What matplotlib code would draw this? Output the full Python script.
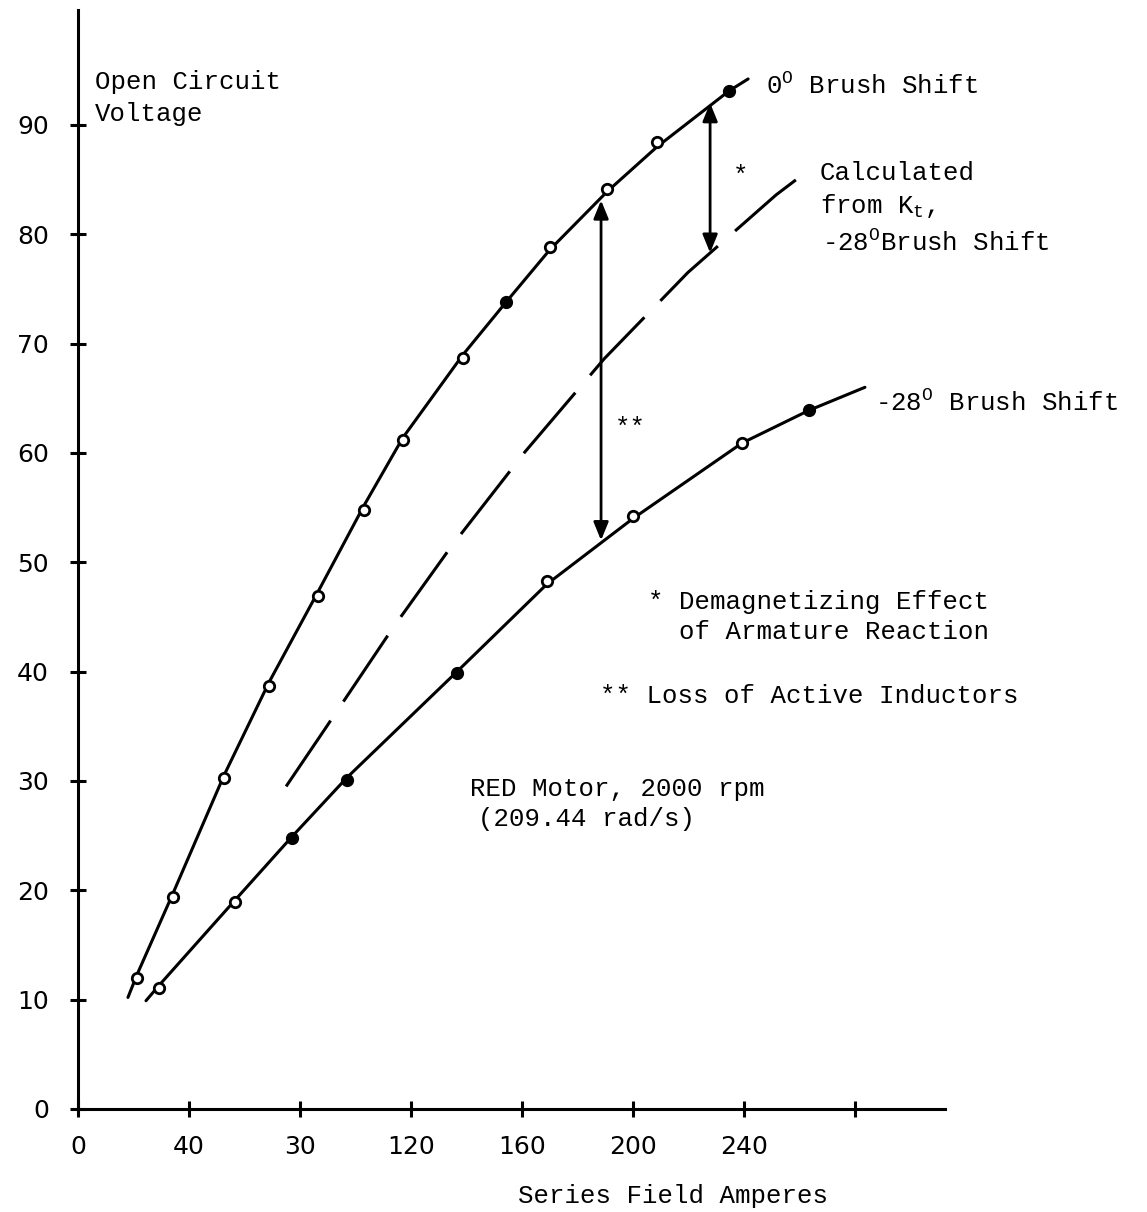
import numpy as np
import matplotlib
matplotlib.use('Agg')
import matplotlib.pyplot as plt

# typewriter look for the annotations
plt.rcParams['mathtext.fontset'] = 'custom'
plt.rcParams['mathtext.rm'] = 'Liberation Mono'
plt.rcParams['mathtext.it'] = 'Liberation Mono'
MONO = 'Liberation Mono'

# 0 deg brush shift: measured points
zero_open_x = [21.3, 34.2, 52.6, 68.8, 86.5, 103.1, 117.1, 138.8, 170.1, 190.7, 208.7]
zero_open_y = [12.0, 19.4, 30.3, 38.7, 46.9, 54.8, 61.2, 68.7, 78.8, 84.1, 88.4]
zero_fill_x = [154.3, 234.6]
zero_fill_y = [73.8, 93.1]
# drawn curve through them
zero_curve_x = [18.0, 21.3, 34.2, 52.6, 68.8, 86.5, 103.1, 117.1, 138.8, 154.3, 170.1, 190.7, 208.7, 234.6, 241.5]
zero_curve_y = [10.2, 12.3, 19.7, 30.5, 39.0, 47.3, 55.2, 61.4, 69.0, 73.8, 78.6, 83.9, 88.0, 93.1, 94.2]

# -28 deg brush shift
neg_open_x = [29.2, 56.6, 169.0, 200.0, 239.3]
neg_open_y = [11.1, 18.9, 48.3, 54.2, 60.9]
neg_fill_x = [77.1, 96.9, 136.6, 263.5]
neg_fill_y = [24.8, 30.1, 39.9, 63.9]
neg_curve_x = [24.5, 29.2, 56.6, 77.1, 96.9, 136.6, 169.0, 200.0, 239.3, 263.5, 283.6]
neg_curve_y = [9.9, 11.3, 19.1, 24.9, 30.3, 40.0, 48.0, 54.0, 60.9, 63.9, 66.0]

# calculated from Kt (dashed)
calc_x = [75.0, 89.4, 113.5, 134.4, 161.1, 189.6, 219.8, 251.6, 262.0]
calc_y = [29.5, 34.9, 44.0, 51.4, 60.1, 68.6, 76.5, 83.6, 85.6]

# arrows: x, top, bottom
star_arrow = (227.8, 92.0, 78.3)
dstar_arrow = (188.5, 83.1, 52.0)

x_ticks = [0, 40, 80, 120, 160, 200, 240, 280]
x_labels = ['0', '40', '30', '120', '160', '200', '240', '']
y_ticks = [0, 10, 20, 30, 40, 50, 60, 70, 80, 90]

fig = plt.figure(figsize=(11.47, 12.12), dpi=100)
ax = fig.add_axes([0.068, 0.085, 0.756, 0.9067])
ax.set_xlim(0, 312.5)
ax.set_ylim(0, 100.5)

for s in ['top', 'right']:
    ax.spines[s].set_visible(False)
for s in ['left', 'bottom']:
    ax.spines[s].set_linewidth(2.2)

ax.set_xticks(x_ticks)
ax.set_xticklabels(x_labels)
ax.set_yticks(y_ticks)
ax.tick_params(direction='inout', length=12, width=2.2, labelsize=18)
ax.tick_params(axis='x', pad=13)
ax.tick_params(axis='y', pad=15)
for lab in ax.get_xticklabels() + ax.get_yticklabels():
    lab.set_family('DejaVu Sans')

lw = 2.2
ax.plot(zero_curve_x, zero_curve_y, color='black', lw=lw, solid_capstyle='round')
ax.plot(neg_curve_x, neg_curve_y, color='black', lw=lw, solid_capstyle='round')
ax.plot(calc_x, calc_y, color='black', lw=lw, linestyle=(0, (26, 7.5)))

ms = 7.5
for xs, ys in [(zero_open_x, zero_open_y), (neg_open_x, neg_open_y)]:
    ax.plot(xs, ys, 'o', ms=ms, mfc='white', mec='black', mew=2, zorder=3)
for xs, ys in [(zero_fill_x, zero_fill_y), (neg_fill_x, neg_fill_y)]:
    ax.plot(xs, ys, 'o', ms=ms, mfc='black', mec='black', mew=2, zorder=3)

arrow_kw = dict(arrowstyle='<|-|>,head_length=1.1,head_width=0.45', color='black', lw=2,
                shrinkA=0, shrinkB=0)
for ax_x, top, bot in [star_arrow, dstar_arrow]:
    ax.annotate('', xy=(ax_x, top), xytext=(ax_x, bot), arrowprops=arrow_kw)

fs = 18.5
tk = dict(family=MONO, fontsize=fs, va='center', ha='left')
ax.text(6.1, 93.9, 'Open Circuit', **tk)
ax.text(6.1, 91.0, 'Voltage', **tk)
ax.text(248.0, 93.6, r'0$^{\mathrm{O}}$ Brush Shift', clip_on=False, **tk)
ax.text(267.4, 85.6, 'Calculated', clip_on=False, **tk)
ax.text(267.4, 82.6, r'from K$_{\mathrm{t}}$,', clip_on=False, **tk)
ax.text(268.3, 79.2, r'-28$^{\mathrm{O}}$Brush Shift', clip_on=False, **tk)
ax.text(236.1, 85.3, '*', **tk)
ax.text(193.5, 62.3, '**', **tk)
ax.text(287.2, 64.6, r'-28$^{\mathrm{O}}$ Brush Shift', clip_on=False, **tk)
ax.text(205.4, 46.4, '* Demagnetizing Effect', clip_on=False, **tk)
ax.text(205.4, 43.6, '  of Armature Reaction', clip_on=False, **tk)
ax.text(188.1, 37.8, '** Loss of Active Inductors', clip_on=False, **tk)
ax.text(141.3, 29.3, 'RED Motor, 2000 rpm', **tk)
ax.text(144.2, 26.5, '(209.44 rad/s)', **tk)
ax.text(214.4, -8.6, 'Series Field Amperes', family=MONO, fontsize=fs,
        ha='center', va='baseline', clip_on=False)

fig.savefig('out.png', dpi=100)
